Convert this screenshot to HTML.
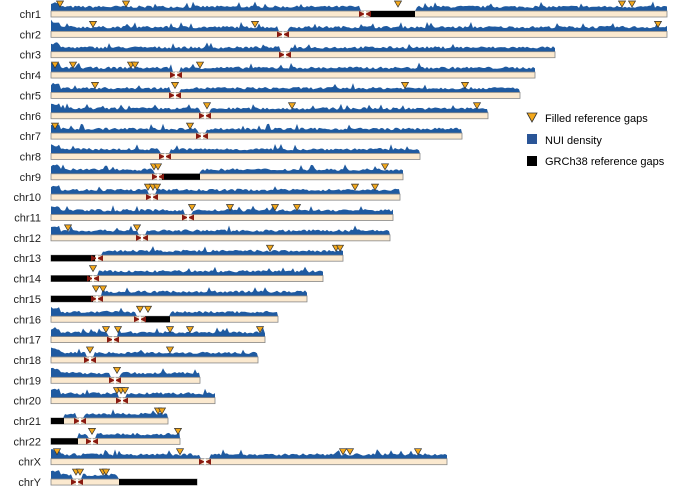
<!DOCTYPE html><html><head><style>body{margin:0;background:#fff}svg{display:block}</style></head><body>
<svg id="s" width="685" height="486" xmlns="http://www.w3.org/2000/svg" font-family="Liberation Sans, sans-serif"></svg>
<script>
const rows=[
["chr1",667,365,[[370,415]],[60,126,398,622,632]],
["chr2",667,283,[],[93,255,658]],
["chr3",555,285,[],[]],
["chr4",535,176,[],[55,73,131,135,200]],
["chr5",520,175,[],[95,175,405,465]],
["chr6",488,205,[],[207,292,477]],
["chr7",462,202,[],[55,190]],
["chr8",420,165,[],[]],
["chr9",403,158,[[162,200]],[154,158,385]],
["chr10",400,152,[],[148,153,157,355,375]],
["chr11",393,188,[],[192,230,275,297]],
["chr12",390,142,[],[68,137]],
["chr13",343,97,[[51,95]],[270,336,340]],
["chr14",323,93,[[51,90]],[93]],
["chr15",307,97,[[51,93]],[96,103]],
["chr16",278,140,[[145,170]],[140,148]],
["chr17",265,113,[],[106,118,170,190,260]],
["chr18",258,90,[],[90,170]],
["chr19",200,115,[],[117]],
["chr20",215,122,[],[117,121,125]],
["chr21",168,80,[[51,64]],[158,162]],
["chr22",180,92,[[51,78]],[92,178]],
["chrX",447,205,[],[57,180,343,350,418]],
["chrY",197,77,[[119,197]],[76,80,103,106]]];
let seed=7;function r(){seed=(seed*16807)%2147483647;return seed/2147483647;}
let h='';
rows.forEach((rw,i)=>{const [n,x1,c,gaps,tris]=rw;const y=11+i*20.35;
h+=`<text x="41" y="${y+7}" font-size="11" text-anchor="end" fill="#222">${n}</text>`;
let p=`M51 ${y}`;for(let x=51;x<=x1;x+=2){let inGap=gaps.some(g=>x>=g[0]&&x<=g[1])||Math.abs(x-c)<5;let v=inGap?0:3+r()*2.5+(r()<0.04?4:0)+(x<60?4:0);p+=` L${x} ${(y-v).toFixed(1)}`;}
p+=` L${x1} ${y} Z`;h+=`<path d="${p}" fill="#1f5aa0"/>`;
h+=`<rect x="51" y="${y}" width="${x1-51}" height="6" fill="#fbe9cf" stroke="#888" stroke-width="0.8"/>`;
gaps.forEach(g=>{h+=`<rect x="${g[0]}" y="${y}" width="${g[1]-g[0]}" height="6" fill="#000"/>`;});
h+=`<path d="M${c-6} ${y} L${c} ${y+3} L${c+6} ${y} L${c+6} ${y+6} L${c} ${y+3} L${c-6} ${y+6}Z" fill="#8a1a10"/>`;
h+=`<rect x="${c-1}" y="${y}" width="2" height="6" fill="#fff"/>`;
tris.forEach(t=>{const ty=y-10;h+=`<path d="M${t-3.5} ${ty} L${t+3.5} ${ty} L${t} ${ty+6}Z" fill="#f3a81c" stroke="#333" stroke-width="0.7"/>`;});
});
h+=`<path d="M527 113 L537 113 L532 122Z" fill="#f3a81c" stroke="#333" stroke-width="0.8"/><text x="545" y="122" font-size="11">Filled reference gaps</text>`;
h+=`<rect x="527" y="134" width="10" height="10" fill="#2a5597"/><text x="545" y="144" font-size="11">NUI density</text>`;
h+=`<rect x="527" y="156" width="10" height="10" fill="#000"/><text x="545" y="165" font-size="11">GRCh38 reference gaps</text>`;
document.getElementById('s').innerHTML=h;
</script></body></html>
